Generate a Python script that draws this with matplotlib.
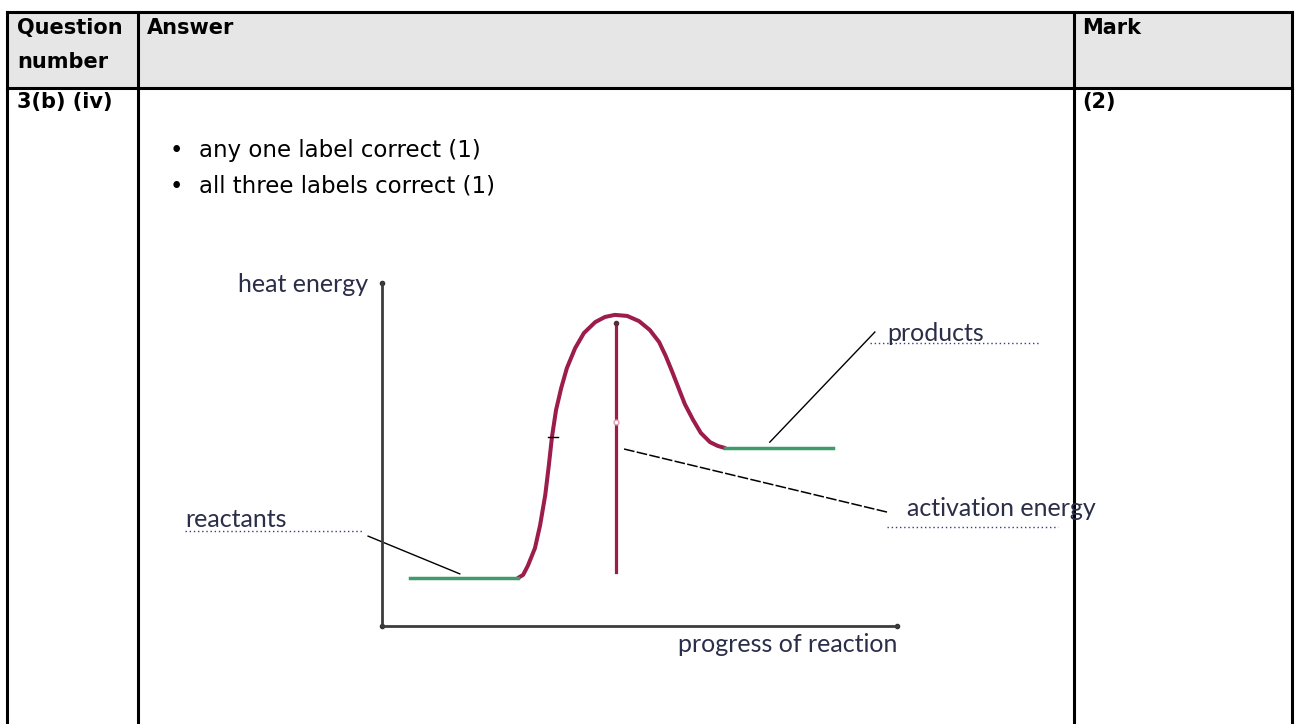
import matplotlib.pyplot as plt
from matplotlib.patches import Rectangle

# energy profile (progress 0-100, heat energy 0-100)
curve_x = [26.4, 27.4, 28.3, 29.7, 30.7, 31.7, 32.4, 33.0, 33.8, 34.8, 35.9,
           37.5, 39.2, 41.4, 43.3, 45.2, 47.6, 49.9, 52.0, 53.8, 55.1, 56.3,
           57.5, 58.8, 60.4, 61.9, 63.7, 65.2, 66.6]
curve_y = [14.0, 14.9, 17.5, 22.7, 29.4, 38.2, 46.9, 55.1, 63.0, 69.4, 75.2,
           81.0, 85.4, 88.6, 90.1, 90.7, 90.4, 88.9, 86.3, 82.8, 78.7, 74.3,
           69.7, 64.7, 60.1, 56.3, 53.6, 52.5, 51.9]
reactants_x = [5.4, 26.4]
reactants_y = [14.0, 14.0]
products_x = [66.6, 87.6]
products_y = [51.9, 51.9]
act_x = [45.4, 45.4]
act_y = [15.7, 88.3]

header = ['Question', 'number', 'Answer', 'Mark']
question = '3(b) (iv)'
mark = '(2)'
bullets = ['any one label correct (1)', 'all three labels correct (1)']

W, H = 1298, 724
fig = plt.figure(figsize=(W / 100, H / 100), dpi=100)

# --- table (pixel coords) ---
ax = fig.add_axes([0, 0, 1, 1])
ax.set_xlim(0, W)
ax.set_ylim(H, 0)
ax.axis('off')

ax.add_patch(Rectangle((7, 12), 1285, 76, facecolor='#e6e6e6', edgecolor='none'))
lw = 2.2
ax.plot([7, 1292], [12, 12], color='black', lw=lw)
ax.plot([7, 1292], [88, 88], color='black', lw=lw)
for xv in [7, 138, 1074, 1292]:
    ax.plot([xv, xv], [12, H], color='black', lw=lw)

bkw = dict(family='DejaVu Sans', fontsize=15, color='black', fontweight='bold',
           va='center')
rkw = dict(family='DejaVu Sans', fontsize=16.5, color='black', va='center')
ax.text(17, 28, header[0], **bkw)
ax.text(17, 62, header[1], **bkw)
ax.text(147, 28, header[2], **bkw)
ax.text(1082, 28, header[3], **bkw)
ax.text(17, 102, question, **bkw)
ax.text(1082, 102, mark, **bkw)
for i, b in enumerate(bullets):
    yb = 151 + i * 35
    ax.text(170, yb, '\u2022', **rkw)
    ax.text(199, yb, b, **rkw)

# --- energy diagram ---
d = fig.add_axes([382 / W, (H - 626) / H, 515 / W, 343 / H])
d.set_xlim(0, 100)
d.set_ylim(0, 100)
d.patch.set_alpha(0)
for s in ['top', 'right']:
    d.spines[s].set_visible(False)
for s in ['left', 'bottom']:
    d.spines[s].set_color('#3c3c3c')
    d.spines[s].set_linewidth(2)
d.set_xticks([])
d.set_yticks([])
d.plot([0, 0, 100], [100, 0, 0], 'o', color='#333333', ms=3, clip_on=False)

maroon = '#9c1c4c'
green = '#3f9a6c'
d.plot(curve_x, curve_y, color=maroon, lw=2.9, solid_capstyle='round',
       solid_joinstyle='round')
d.plot(act_x, act_y, color=maroon, lw=2.3)
d.plot(act_x[1], act_y[1], 'o', color='#5a2a3a', ms=3)
d.plot(act_x[0], 59.5, 'o', mfc='white', mec='#d9a0b0', ms=3.5)
d.plot(reactants_x, reactants_y, color=green, lw=2.5)
d.plot(products_x, products_y, color=green, lw=2.5)
d.plot([32.2, 34.2], [55.1, 55.1], color='black', lw=1)

# leader lines
d.plot([-2.7, 15.1], [26.2, 15.2], color='black', lw=1, clip_on=False)
d.plot([75.3, 95.7], [53.6, 85.7], color='black', lw=1, clip_on=False)
d.plot([47.0, 98.1], [51.6, 33.2], color='black', lw=1.1,
       ls=(0, (7, 1.5)), clip_on=False)

# labels with dotted answer lines
lab = dict(family='Lato', fontsize=18, color='#2a2e48', clip_on=False)
dots = dict(color='#3b3a8a', lw=1, ls=(0, (1, 2)), clip_on=False)
d.text(-2.7, 97.4, 'heat energy', ha='right', va='baseline', **lab)
d.text(-38.3, 28.9, 'reactants', ha='left', va='baseline', **lab)
d.plot([-38.3, -3.9], [27.7, 27.7], **dots)
d.text(98.1, 83.1, 'products', ha='left', va='baseline', **lab)
d.plot([94.8, 127.8], [82.5, 82.5], **dots)
d.text(101.9, 32.1, 'activation energy', ha='left', va='baseline', **lab)
d.plot([98.1, 131.3], [28.9, 28.9], **dots)
d.text(100, -7.6, 'progress of reaction', ha='right', va='baseline', **lab)
# picture edge cuts the axis title
d.add_patch(Rectangle((40, -20), 80, 11.2, facecolor='white', edgecolor='none',
                      clip_on=False, zorder=5))

fig.savefig('out.png', dpi=100)
